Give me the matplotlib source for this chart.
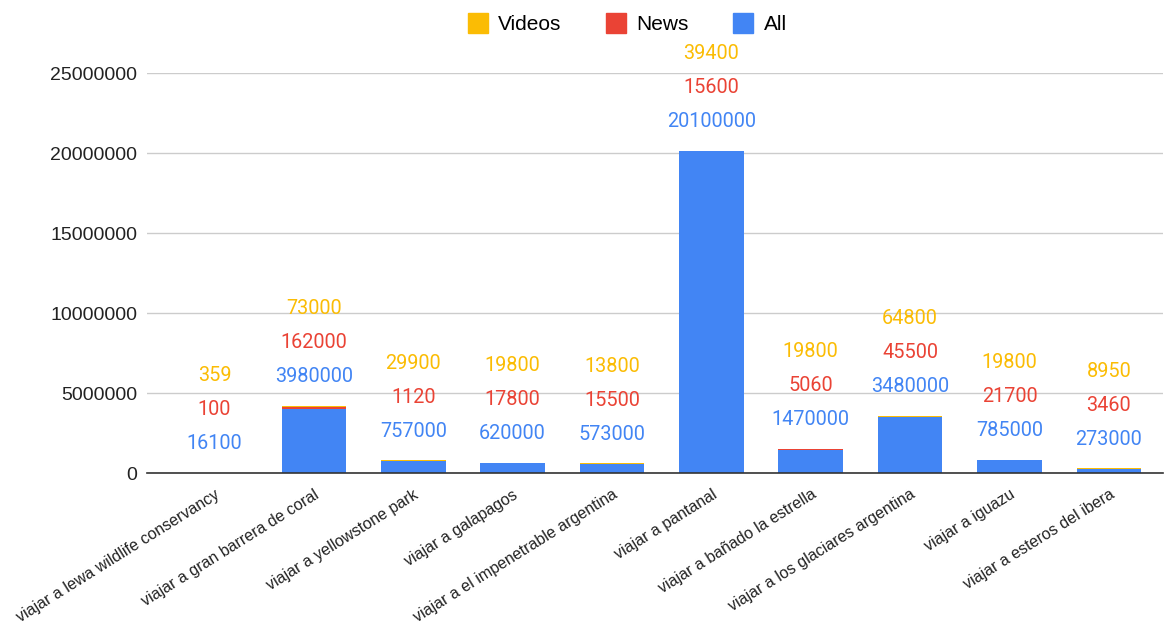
import numpy as np
import matplotlib.pyplot as plt
from matplotlib.lines import Line2D

# search volume per query
queries = ["viajar a lewa wildlife conservancy", "viajar a gran barrera de coral",
           "viajar a yellowstone park", "viajar a galapagos",
           "viajar a el impenetrable argentina", "viajar a pantanal",
           "viajar a bañado la estrella", "viajar a los glaciares argentina",
           "viajar a iguazu", "viajar a esteros del ibera"]
all_results = [16100, 3980000, 757000, 620000, 573000, 20100000, 1470000, 3480000, 785000, 273000]
news = [100, 162000, 1120, 17800, 15500, 15600, 5060, 45500, 21700, 3460]
videos = [359, 73000, 29900, 19800, 13800, 39400, 19800, 64800, 19800, 8950]

c_all = "#4285F4"
c_news = "#EA4335"
c_videos = "#FBBC04"

plt.rcParams['font.family'] = ['Roboto', 'DejaVu Sans']
arial = ['Liberation Sans', 'DejaVu Sans']

fig = plt.figure(figsize=(11.66, 6.22), dpi=100)
ax = fig.add_axes([0.126, 0.2395, 0.871, 0.643])

x = np.arange(len(queries))
a = np.array(all_results)
n = np.array(news)
v = np.array(videos)
w = 0.65
ax.bar(x, a, w, color=c_all, zorder=3)
ax.bar(x, n, w, bottom=a, color=c_news, zorder=3)
ax.bar(x, v, w, bottom=a + n, color=c_videos, zorder=3)

# value labels stacked above each bar
tops = a + n + v
for i in range(len(x)):
    for k, (val, col) in enumerate([(a[i], c_all), (n[i], c_news), (v[i], c_videos)]):
        ax.annotate(str(val), (x[i], tops[i]), xytext=(0, 21 + 24.5 * k),
                    textcoords="offset points", ha="center", va="center",
                    color=col, fontsize=14.3, annotation_clip=False, zorder=4)

ax.set_xlim(-0.68, 9.54)
ax.set_ylim(0, 25000000)
ax.set_yticks(np.arange(0, 25000001, 5000000))
ax.set_yticklabels([str(t) for t in range(0, 25000001, 5000000)],
                   fontsize=14, family=arial, color="#222222")
ax.yaxis.grid(True, color="#cccccc", linewidth=1, zorder=0)
ax.tick_params(axis="y", length=0, pad=7)
ax.tick_params(axis="x", length=0, pad=10)
ax.set_xticks(x)
ax.set_xticklabels(queries, rotation=32, ha="right", rotation_mode="anchor",
                   fontsize=11.5, family=arial, color="#222222")
for s in ["top", "right", "left"]:
    ax.spines[s].set_visible(False)
ax.spines["bottom"].set_color("#333333")
ax.spines["bottom"].set_linewidth(1.2)
ax.spines["bottom"].set_zorder(5)

handles = [Line2D([], [], marker="s", linestyle="", markersize=15, color=c)
           for c in (c_videos, c_news, c_all)]
fig.legend(handles, ["Videos", "News", "All"], loc="center", bbox_to_anchor=(0.537, 0.96),
           ncol=3, frameon=False, prop={'family': arial, 'size': 15},
           handletextpad=0.4, columnspacing=2.0, handlelength=1.2)

fig.savefig("out.png")
